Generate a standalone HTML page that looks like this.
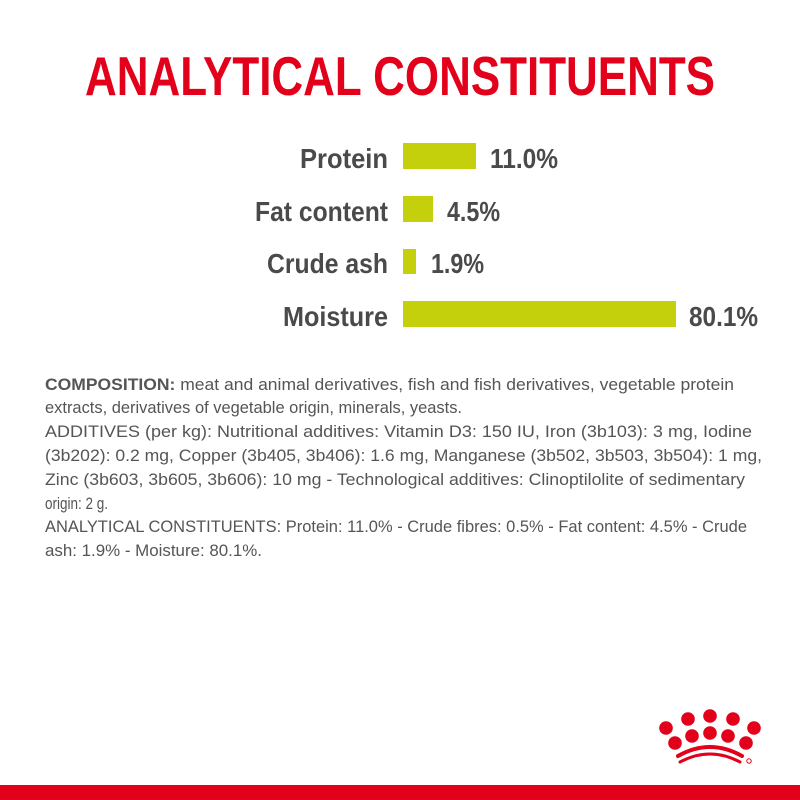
<!DOCTYPE html>
<html><head><meta charset="utf-8"><style>
html,body{margin:0;padding:0;background:#fff;}
svg{display:block;}
</style></head><body>
<svg width="800" height="800" viewBox="0 0 800 800" xmlns="http://www.w3.org/2000/svg">
<rect width="800" height="800" fill="#fff"/>
<text x="85" y="95" font-family="Liberation Sans Narrow, Liberation Sans, sans-serif" font-weight="bold" font-size="55" fill="#e2001a" textLength="630" lengthAdjust="spacingAndGlyphs">ANALYTICAL CONSTITUENTS</text>
<g font-family="Liberation Sans Narrow, Liberation Sans, sans-serif" font-weight="bold" font-size="28" fill="#4a4a4a">
<text x="300" y="168" textLength="88" lengthAdjust="spacingAndGlyphs">Protein</text>
<text x="255" y="221" textLength="133" lengthAdjust="spacingAndGlyphs">Fat content</text>
<text x="267" y="273" textLength="121" lengthAdjust="spacingAndGlyphs">Crude ash</text>
<text x="283" y="326" textLength="105" lengthAdjust="spacingAndGlyphs">Moisture</text>
<text x="490" y="168" textLength="68" lengthAdjust="spacingAndGlyphs">11.0%</text>
<text x="447" y="221" textLength="53" lengthAdjust="spacingAndGlyphs">4.5%</text>
<text x="431" y="273" textLength="53" lengthAdjust="spacingAndGlyphs">1.9%</text>
<text x="689" y="326" textLength="69" lengthAdjust="spacingAndGlyphs">80.1%</text>
</g>
<g fill="#c5d00d">
<rect x="403" y="143" width="73" height="26"/>
<rect x="403" y="196" width="30" height="26"/>
<rect x="403" y="249" width="13" height="25"/>
<rect x="403" y="301" width="273" height="26"/>
</g>
<g font-family="Liberation Sans Narrow, Liberation Sans, sans-serif" font-size="16.5" fill="#555">
<text x="45" y="390" textLength="689" lengthAdjust="spacingAndGlyphs"><tspan font-weight="bold">COMPOSITION:</tspan> meat and animal derivatives, fish and fish derivatives, vegetable protein</text>
<text x="45" y="413" textLength="417" lengthAdjust="spacingAndGlyphs">extracts, derivatives of vegetable origin, minerals, yeasts.</text>
<text x="45" y="437" textLength="707" lengthAdjust="spacingAndGlyphs">ADDITIVES (per kg): Nutritional additives: Vitamin D3: 150 IU, Iron (3b103): 3 mg, Iodine</text>
<text x="45" y="461" textLength="717" lengthAdjust="spacingAndGlyphs">(3b202): 0.2 mg, Copper (3b405, 3b406): 1.6 mg, Manganese (3b502, 3b503, 3b504): 1 mg,</text>
<text x="45" y="485" textLength="700" lengthAdjust="spacingAndGlyphs">Zinc (3b603, 3b605, 3b606): 10 mg - Technological additives: Clinoptilolite of sedimentary</text>
<text x="45" y="509" textLength="63" lengthAdjust="spacingAndGlyphs">origin: 2 g.</text>
<text x="45" y="532" textLength="702" lengthAdjust="spacingAndGlyphs">ANALYTICAL CONSTITUENTS: Protein: 11.0% - Crude fibres: 0.5% - Fat content: 4.5% - Crude</text>
<text x="45" y="556" textLength="217" lengthAdjust="spacingAndGlyphs">ash: 1.9% - Moisture: 80.1%.</text>
</g>
<g fill="#e2001a">
<circle cx="666" cy="728" r="6.8"/>
<circle cx="688" cy="719" r="6.8"/>
<circle cx="710" cy="716" r="6.8"/>
<circle cx="733" cy="719" r="6.8"/>
<circle cx="754" cy="728" r="6.8"/>
<circle cx="675" cy="743" r="6.8"/>
<circle cx="692" cy="736" r="6.8"/>
<circle cx="710" cy="733" r="6.8"/>
<circle cx="728" cy="736" r="6.8"/>
<circle cx="746" cy="743" r="6.8"/>
<circle cx="749" cy="761" r="2.2" fill="none" stroke="#e2001a" stroke-width="1"/>
<rect x="0" y="785" width="800" height="15"/>
</g>
<g fill="none" stroke="#e2001a" stroke-linecap="round">
<path d="M678 756 Q710 738 742 756" stroke-width="4"/>
<path d="M680 762 Q710 746 740 762" stroke-width="3"/>
</g>
</svg>
</body></html>
